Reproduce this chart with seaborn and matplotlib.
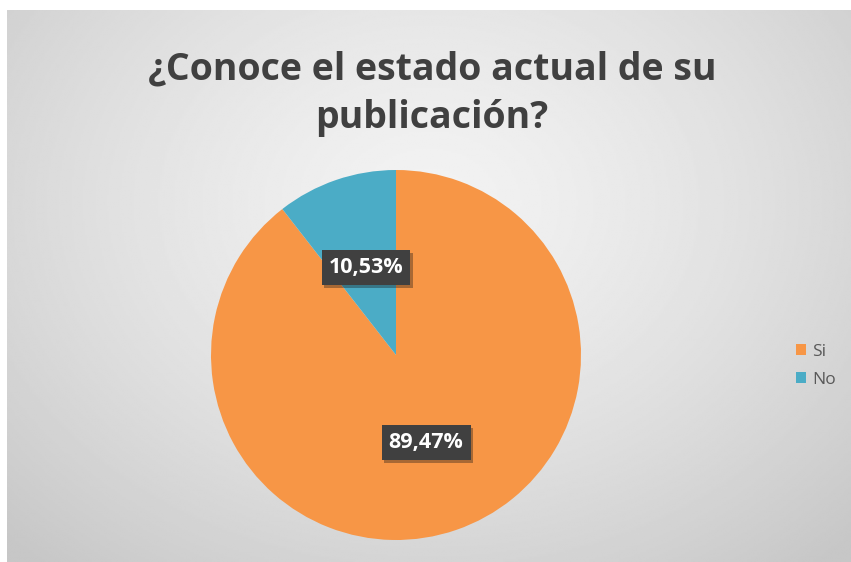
import numpy as np
import matplotlib
matplotlib.use("Agg")
import matplotlib.pyplot as plt
import matplotlib.patheffects as pe
from matplotlib.patches import Patch
import seaborn as sns

# Data
labels = ["Si", "No"]
values = [89.47, 10.53]
colors = ["#F79646", "#4BACC6"]
title = "¿Conoce el estado actual de su\npublicación?"

sns.set_style("white")
plt.rcParams["font.family"] = ["Open Sans", "DejaVu Sans"]

W, H = 851, 562
fig = plt.figure(figsize=(W / 100, H / 100), dpi=100)
fig.patch.set_facecolor("white")

# gray radial background of the chart area
bg = fig.add_axes([7 / W, 0, 1 - 7 / W, 1 - 10 / H])
yy, xx = np.mgrid[0:1:300j, 0:1:450j]
d = np.sqrt(((xx - 0.5) / 0.75) ** 2 + ((yy - 0.35) / 0.9) ** 2)
d = np.clip(d / 0.95, 0, 1)
shade = 0.95 - 0.17 * d ** 1.4
bg.imshow(shade, cmap="gray", vmin=0, vmax=1, aspect="auto",
          extent=[0, 1, 1, 0], interpolation="bilinear")
bg.set_axis_off()

# pie
cx, cy, r = 396, 355, 185
ax = fig.add_axes([(cx - r) / W, (H - cy - r) / H, 2 * r / W, 2 * r / H])
wedges, texts, autotexts = ax.pie(
    values, colors=colors, startangle=90, counterclock=False,
    autopct=lambda p: f"{p:.2f}%".replace(".", ","), pctdistance=0.5,
    wedgeprops=dict(linewidth=0))
ax.set_xlim(-1, 1)
ax.set_ylim(-1, 1)
ax.set_aspect("auto")
for t in autotexts:
    t.set_color("white")
    t.set_fontsize(15.5)
    t.set_fontweight("bold")
    t.set_bbox(dict(boxstyle="square,pad=0.33", facecolor="#404040",
                    edgecolor="none"))
    t.get_bbox_patch().set_path_effects(
        [pe.SimplePatchShadow(offset=(2, -2), alpha=0.35), pe.Normal()])

fig.text(432 / W, 1 - 94 / H, title, ha="center", va="center",
         fontsize=27, fontweight="bold", color="#404040", linespacing=1.35)

handles = [Patch(facecolor=c, edgecolor="none") for c in colors]
fig.legend(handles, labels, loc="center left", bbox_to_anchor=(780 / W, 1 - 366 / H),
           frameon=False, fontsize=12.5, labelcolor="#595959",
           handlelength=0.6, handleheight=0.6, handletextpad=0.35,
           labelspacing=0.7)

fig.savefig("out.png", dpi=100)
